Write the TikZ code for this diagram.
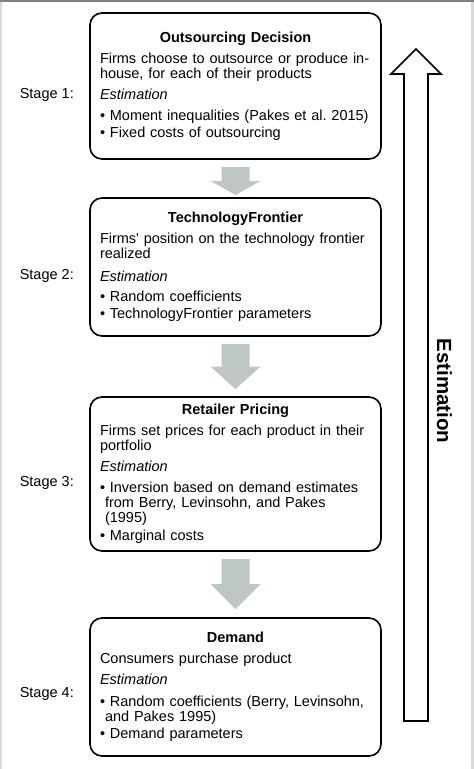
\documentclass[tikz,border=0pt]{standalone}
\usepackage{fontspec}
\setmainfont{Liberation Sans}
\usepackage{tikz}
\usetikzlibrary{positioning, calc}

\definecolor{arrowgray}{RGB}{190,199,197}
\definecolor{framegray}{RGB}{128,128,128}
\definecolor{edgegray}{RGB}{218,218,218}

\tikzset{
  stagebox/.style={draw, line width=1.6pt, rounded corners=12pt, outer sep=0pt,
    text width=271pt, inner xsep=10pt, inner ysep=3pt, align=left,
    font=\fontsize{14.5}{15}\selectfont},
  stagelabel/.style={inner sep=0pt, font=\fontsize{14.5}{15}\selectfont},
  flow/.style={fill=arrowgray},
}

% box heading, centered and bold
\newcommand{\boxhead}[1]{{\centering\bfseries #1\par}\vspace{6pt}\noindent}
% gray block arrow from one stage box down to the next
\newcommand{\flowarrow}[3][8]{%
  \fill[flow] let \p1=($(#2.south)+(0,8)$), \p2=($(#3.north)+(0,-#1)$),
      \p3=($(\p1)!0.5!(\p2)$) in
    (\x1-14pt,\y1) -- (\x1+14pt,\y1) -- (\x1+14pt,\y3) -- (\x1+25pt,\y3)
    -- (\x1,\y2) -- (\x1-25pt,\y3) -- (\x1-14pt,\y3) -- cycle;}

\begin{document}
\begin{tikzpicture}[x=1pt, y=-1pt]
    % Frame of the figure
    \useasboundingbox (0,0) rectangle (474,769);
    \fill[edgegray] (0,0) rectangle (2,769);
    \fill[edgegray] (471,0) rectangle (474,769);
    \fill[framegray] (0,0) rectangle (474,2);

    % Stage boxes
    \node[stagebox, minimum height=146pt] (od) at (235.5,86) {%
      \boxhead{Outsourcing Decision}%
      Firms choose to outsource or produce in-\\
      house, for each of their products\\[6pt]
      \textit{Estimation}\\[6pt]
      \mbox{\textbullet\ Moment inequalities (Pakes et al.\ 2015)}\\[2pt]
      \textbullet\ Fixed costs of outsourcing};
    \node[stagebox, minimum height=138pt, below=39pt of od] (tf) {%
      \boxhead{TechnologyFrontier}%
      Firms\textquotesingle\ position on the technology frontier\\
      realized\\[8pt]
      \textit{Estimation}\\[5pt]
      \textbullet\ Random coefficients\\[2pt]
      \textbullet\ TechnologyFrontier parameters};
    \node[stagebox, minimum height=154pt, below=61pt of tf] (rp) {%
      \boxhead{Retailer Pricing}%
      Firms set prices for each product in their\\
      portfolio\\[6pt]
      \textit{Estimation}\\[6pt]
      \textbullet\ Inversion based on demand estimates\\
      \hspace*{5pt}from Berry, Levinsohn, and Pakes\\
      \hspace*{5pt}(1995)\\[3pt]
      \textbullet\ Marginal costs};
    \node[stagebox, minimum height=138pt, below=67pt of rp] (dm) {%
      \boxhead{Demand}%
      Consumers purchase product\\[6pt]
      \textit{Estimation}\\[7pt]
      \mbox{\textbullet\ Random coefficients (Berry, Levinsohn,}\\
      \hspace*{5pt}and Pakes 1995)\\[2pt]
      \textbullet\ Demand parameters};

    % Stage labels
    \node[stagelabel, left=16pt of od, yshift=-9pt] (st1) {Stage 1:};
    \node[stagelabel, left=16pt of tf, yshift=-9pt] (st2) {Stage 2:};
    \node[stagelabel, left=16pt of rp, yshift=-9pt] (st3) {Stage 3:};
    \node[stagelabel, left=16pt of dm, yshift=-7pt] (st4) {Stage 4:};

    % Flow between the stages
    \flowarrow[3]{od}{tf}
    \flowarrow{tf}{rp}
    \flowarrow[9]{rp}{dm}

    % Estimation runs backwards
    \coordinate (est-foot) at (416,721);
    \coordinate (est-tip) at (416,49);
    \draw[line width=1.6pt] ($(est-foot)+(-12,0)$) -- ($(est-foot)+(12,0)$)
      -- (428,74) -- (441,74) -- (est-tip) -- (391,74) -- (404,74) -- cycle;
    \node[rotate=-90, anchor=base, inner sep=0pt,
      font=\fontsize{20.5}{24}\selectfont\bfseries] (est) at (437,391) {Estimation};
\end{tikzpicture}
\end{document}
